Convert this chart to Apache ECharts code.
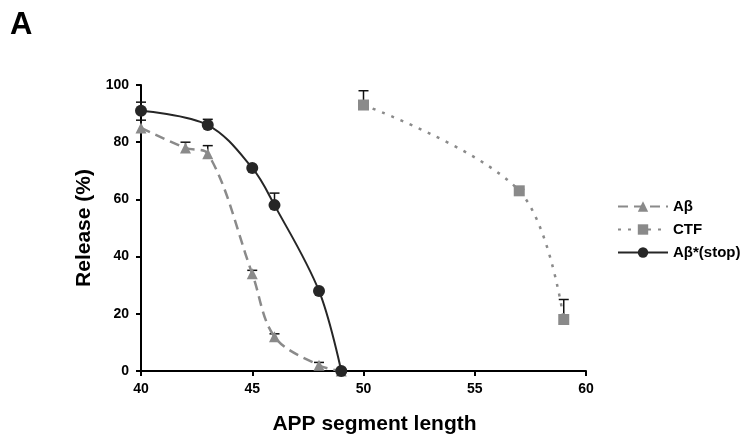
<!DOCTYPE html>
<html><head><meta charset="utf-8">
<script src="https://cdn.jsdelivr.net/npm/echarts@6/dist/echarts.min.js"></script>
<style>html,body{margin:0;padding:0;background:#fff}#c{width:752px;height:446px}</style>
</head><body><div id="c"></div>
<script>
const abetaX = [40, 42, 43, 45, 46, 48, 49];
const abetaY = [85, 78, 76, 34, 12, 2, 0];
const abetaErr = [2.7, 2, 2.8, 1.2, 1, 1, 0];
const ctfX = [50, 57, 59];
const ctfY = [93, 63, 18];
const ctfErr = [5, 0.5, 7];
const stopX = [40, 43, 45, 46, 48, 49];
const stopY = [91, 86, 71, 58, 28, 0];
const stopErr = [3, 2, 0, 4.2, 0, 0];
const xTicks = [40, 45, 50, 55, 60];
const yTicks = [0, 20, 40, 60, 80, 100];

const GRAY = '#8a8a8a', DARK = '#262626';
const FONT = 'Liberation Sans, Arial, sans-serif';

function pairs(xs, ys){ return xs.map((x,i)=>[x, ys[i]]); }
function errData(xs, ys, es){ return xs.map((x,i)=>[x, ys[i], es[i]]); }

function errSeries(data){
  return {
    type: 'custom', silent: true, z: 1,
    data: data,
    renderItem: function(params, api){
      const x = api.value(0), y = api.value(1), e = api.value(2);
      if (!e) return null;
      const p0 = api.coord([x, y]);
      const p1 = api.coord([x, y + e]);
      const style = {stroke: '#111', lineWidth: 1.5};
      return {type: 'group', children: [
        {type: 'line', shape: {x1: p0[0], y1: p0[1], x2: p1[0], y2: p1[1]}, style: style},
        {type: 'line', shape: {x1: p1[0]-5, y1: p1[1], x2: p1[0]+5, y2: p1[1]}, style: style}
      ]};
    }
  };
}

const chart = echarts.init(document.getElementById('c'));
chart.setOption({
  animation: false,
  backgroundColor: '#fff',
  title: {text: 'A', left: 5, top: 5, textStyle: {fontFamily: FONT, fontWeight: 'bold', fontSize: 31, color: '#000'}},
  grid: {left: 141, right: 166, top: 85, bottom: 75},
  xAxis: {
    type: 'value', min: xTicks[0], max: xTicks[xTicks.length-1], interval: 5,
    name: 'APP segment length', nameLocation: 'middle', nameGap: 43,
    nameTextStyle: {fontFamily: FONT, fontWeight: 'bold', fontSize: 21, color: '#000', padding: [0, 0, 0, 22]},
    axisLine: {lineStyle: {color: '#000', width: 2}},
    axisTick: {length: 5, lineStyle: {color: '#000', width: 2}},
    axisLabel: {fontFamily: FONT, fontWeight: 'bold', fontSize: 14, color: '#000', margin: 11},
    splitLine: {show: false}
  },
  yAxis: {
    type: 'value', min: yTicks[0], max: yTicks[yTicks.length-1], interval: 20,
    name: 'Release (%)', nameLocation: 'middle', nameGap: 41, nameRotate: 90,
    nameTextStyle: {fontFamily: FONT, fontWeight: 'bold', fontSize: 21, color: '#000'},
    axisLine: {show: true, lineStyle: {color: '#000', width: 2}},
    axisTick: {show: true, length: 5, lineStyle: {color: '#000', width: 2}},
    axisLabel: {fontFamily: FONT, fontWeight: 'bold', fontSize: 14, color: '#000', margin: 12},
    splitLine: {show: false}
  },
  legend: {
    orient: 'vertical', left: 612, top: 194, itemGap: 8, itemWidth: 50, itemHeight: 13,
    textStyle: {fontFamily: FONT, fontWeight: 'bold', fontSize: 15, color: '#000'},
    data: ['Aβ', 'CTF', 'Aβ*(stop)']
  },
  series: [
    errSeries(errData(abetaX, abetaY, abetaErr)),
    errSeries(errData(ctfX, ctfY, ctfErr)),
    errSeries(errData(stopX, stopY, stopErr)),
    {name: 'Aβ', type: 'line', smooth: 0.35, data: pairs(abetaX, abetaY), z: 3,
     symbol: 'triangle', symbolSize: 11,
     lineStyle: {color: GRAY, width: 2.5, type: [10, 6]},
     itemStyle: {color: GRAY}},
    {name: 'CTF', type: 'line', smooth: 0.35, data: pairs(ctfX, ctfY), z: 3,
     symbol: 'rect', symbolSize: 11,
     lineStyle: {color: GRAY, width: 2.5, type: [3, 7]},
     itemStyle: {color: GRAY}},
    {name: 'Aβ*(stop)', type: 'line', smooth: 0.35, data: pairs(stopX, stopY), z: 4,
     symbol: 'circle', symbolSize: 12,
     lineStyle: {color: DARK, width: 2},
     itemStyle: {color: DARK}}
  ]
});
</script></body></html>
